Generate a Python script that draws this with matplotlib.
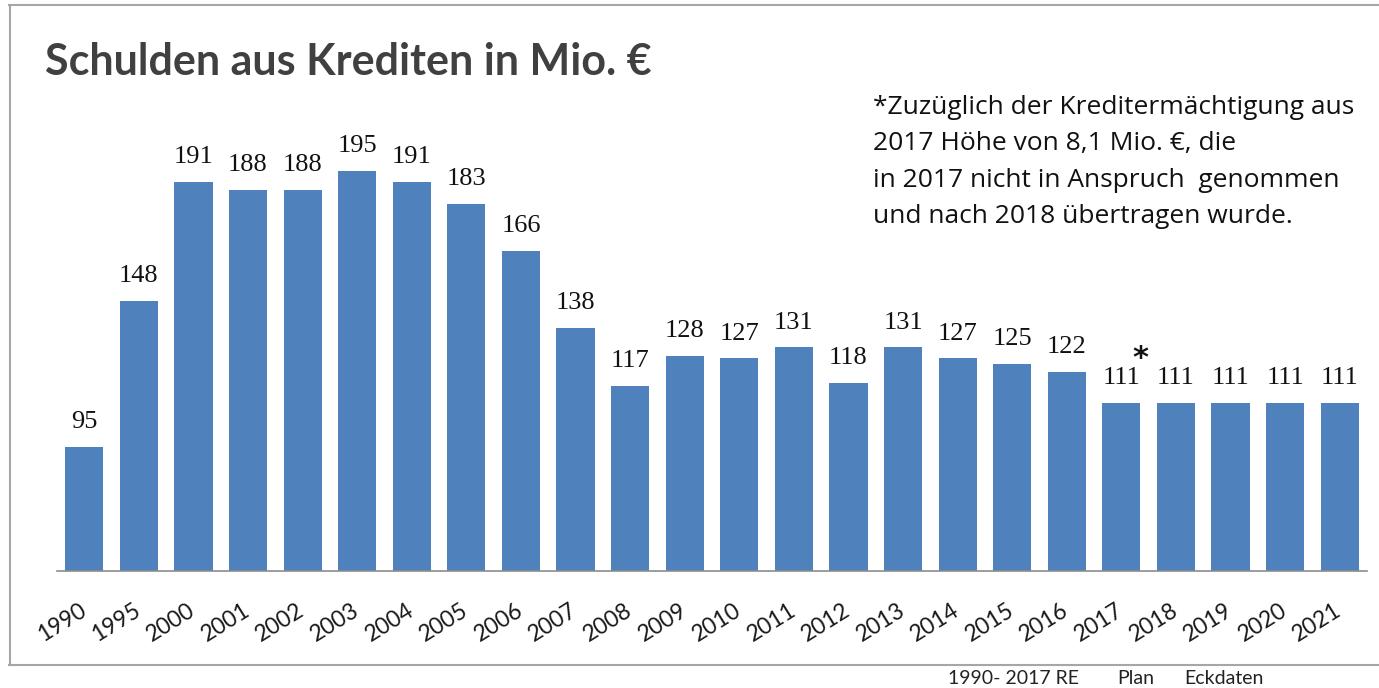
import matplotlib
matplotlib.use("Agg")
import matplotlib.pyplot as plt
from matplotlib.lines import Line2D

# Daten: Schulden aus Krediten in Mio. EUR
years = ["1990", "1995", "2000", "2001", "2002", "2003", "2004", "2005",
         "2006", "2007", "2008", "2009", "2010", "2011", "2012", "2013",
         "2014", "2015", "2016", "2017", "2018", "2019", "2020", "2021"]
debt = [95, 148, 191, 188, 188, 195, 191, 183, 166, 138, 117, 128,
        127, 131, 118, 131, 127, 125, 122, 111, 111, 111, 111, 111]
star_year = "2017"

title = "Schulden aus Krediten in Mio. €"
note = ("*Zuzüglich der Kreditermächtigung aus\n"
        "2017 Höhe von 8,1 Mio. €, die\n"
        "in 2017 nicht in Anspruch  genommen\n"
        "und nach 2018 übertragen wurde.")
footer = ["1990- 2017 RE", "Plan", "Eckdaten"]

W, H = 1379, 688
BAR_COLOR = "#4F81BD"


def px(x, y):
    """pixel coords (top-left origin) -> figure fraction"""
    return x / W, 1 - y / H


fig = plt.figure(figsize=(W / 100, H / 100), dpi=100)

# axes: baseline at y=571, spans x 57..1367
ax_left, ax_right, ax_base, ax_top = 57, 1367, 571, 100
ax = fig.add_axes([ax_left / W, 1 - ax_base / H,
                   (ax_right - ax_left) / W, (ax_base - ax_top) / H])

x = list(range(len(years)))
ax.bar(x, debt, width=0.7, color=BAR_COLOR, zorder=2)
ax.set_xlim(-0.5, len(years) - 0.5)
ax.set_ylim(50, 50 + (ax_base - ax_top) / 2.76)

for s in ["top", "right", "left"]:
    ax.spines[s].set_visible(False)
ax.spines["bottom"].set_color("#8c8c8c")
ax.spines["bottom"].set_linewidth(1.2)
ax.set_yticks([])
ax.set_xticks(x)
ax.set_xticklabels(years, rotation=32, ha="right", va="center",
                   rotation_mode="anchor", fontsize=16.5, family="Lato",
                   color="#1a1a1a")
ax.tick_params(axis="x", length=0, pad=27)

# value labels
for i, v in enumerate(debt):
    ax.annotate(str(v), xy=(i, v), xytext=(0, 10), textcoords="offset points",
                ha="center", va="bottom", fontsize=19,
                family="Liberation Serif", color="#111111")

# asterisk at 2017
si = years.index(star_year)
ax.annotate("*", xy=(si, debt[si]), xytext=(14, 32), textcoords="offset points",
            ha="center", va="center", fontsize=22, fontweight="bold",
            family="DejaVu Sans", color="#111111")

# title
fig.text(*px(45, 62), title, fontsize=31, family="Lato", fontweight="bold",
         color="#404040", ha="left", va="center")

# note
fig.text(*px(873, 95), note, fontsize=19, family="Open Sans",
         color="#111111", ha="left", va="top", linespacing=1.6)

# footer
for fx, t in zip([948, 1117, 1184], footer):
    fig.text(*px(fx, 679), t, fontsize=14, family="Lato",
             color="#222222", ha="left", va="center")

# frame lines
frame_c = "#a6a6a6"
for (x0, y0), (x1, y1) in [((9, 5), (1379, 5)), ((9.5, 5), (9.5, 665)),
                           ((9, 665), (1379, 665))]:
    fx0, fy0 = px(x0, y0)
    fx1, fy1 = px(x1, y1)
    fig.add_artist(Line2D([fx0, fx1], [fy0, fy1], color=frame_c, lw=1.5))

fig.savefig("out.png", dpi=100)
